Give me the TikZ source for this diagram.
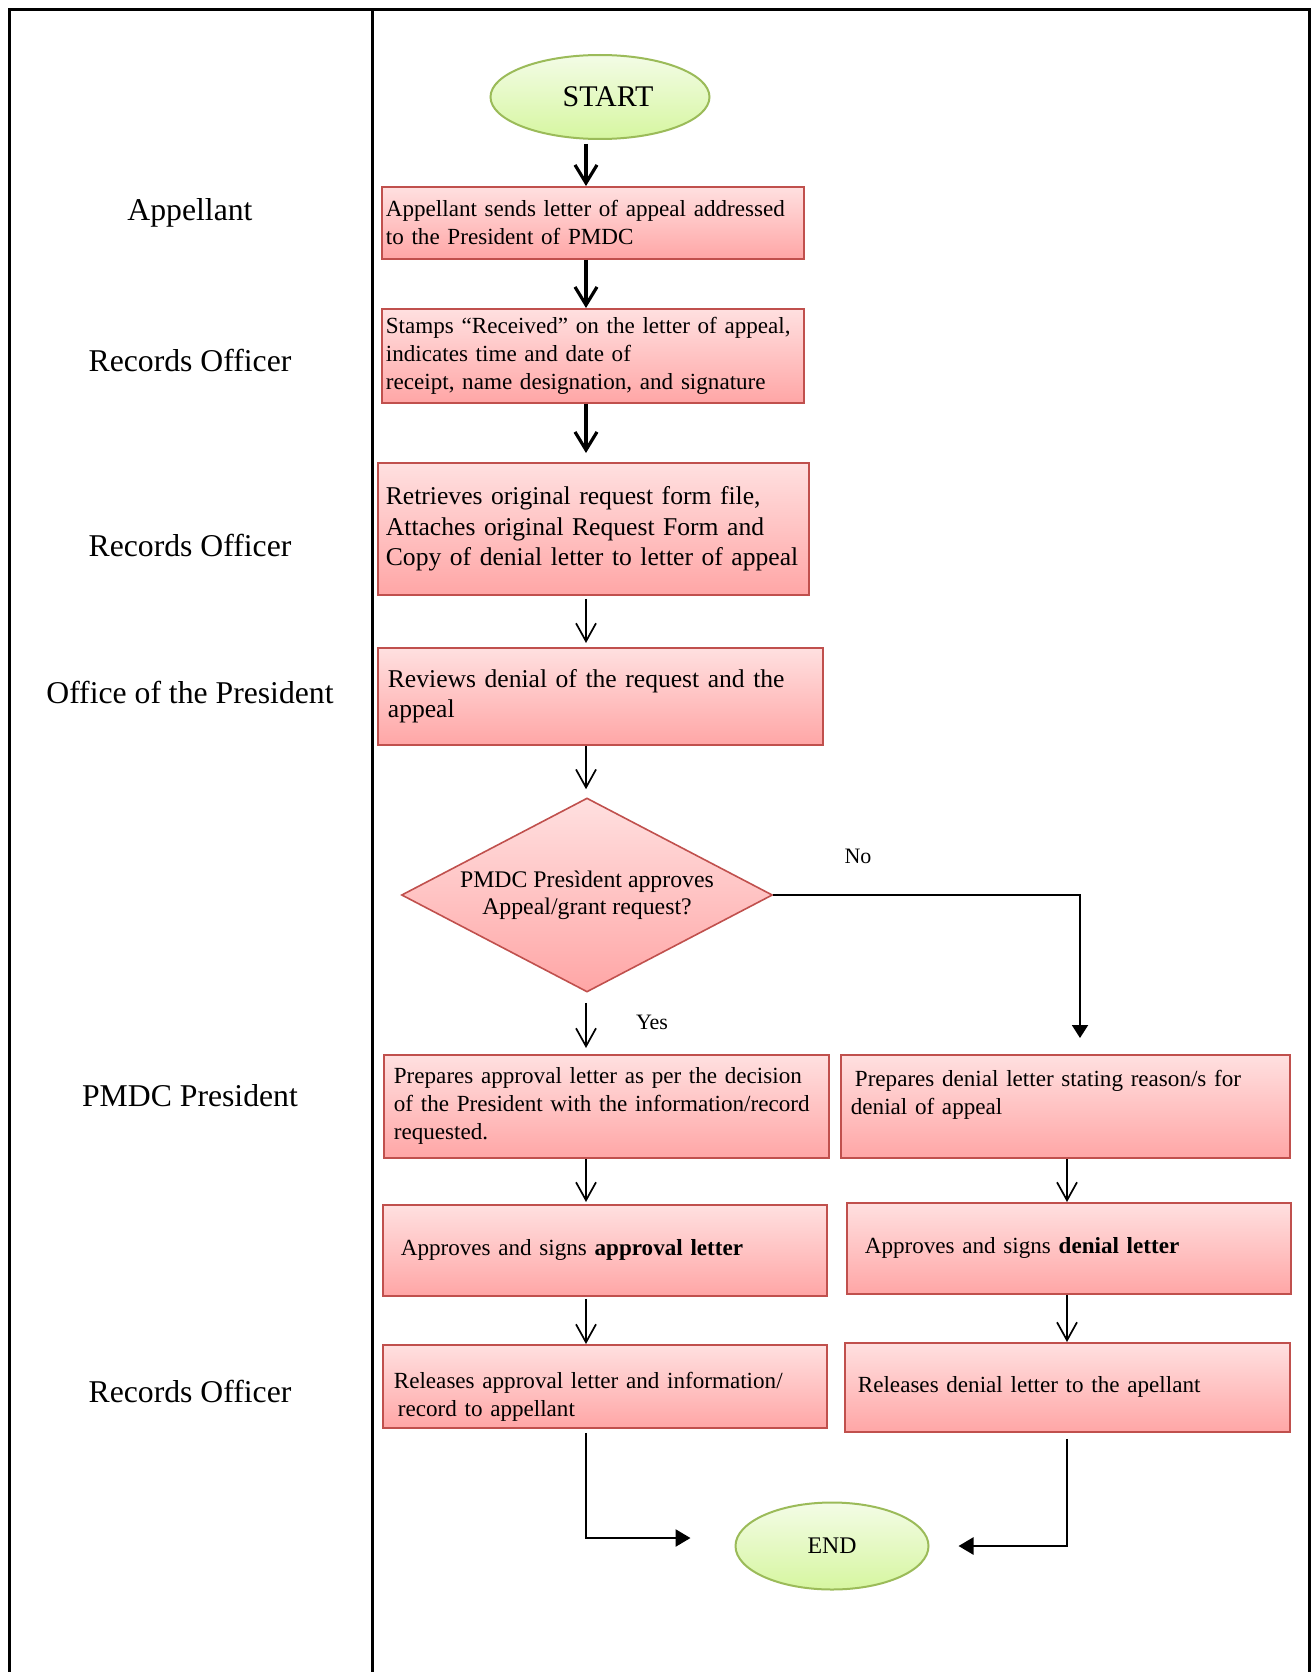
\documentclass[tikz,border=0pt]{standalone}
\usepackage{fontspec}
\setmainfont{Liberation Serif}
\usepackage{xcolor}
\usepackage{tikz}
\usetikzlibrary{shapes.geometric, arrows.meta, calc}
\definecolor{BoxTop}{RGB}{255,224,224}
\definecolor{BoxBottom}{RGB}{255,166,166}
\definecolor{BoxRed}{RGB}{192,80,77}
\definecolor{OvalTop}{RGB}{243,252,230}
\definecolor{OvalBottom}{RGB}{214,246,160}
\definecolor{OvalGreen}{RGB}{155,187,89}
\newcommand{\boxfont}{\fontsize{23.1}{28}\selectfont}
\newcommand{\bigboxfont}{\fontsize{25.6}{30.5}\selectfont}
\tikzset{
	lane/.style={font=\fontsize{31.7}{36}\selectfont},
	procbox/.style={draw=BoxRed, line width=1.8pt, top color=BoxTop, bottom color=BoxBottom, anchor=north west, align=left, inner xsep=10pt, inner ysep=0pt, font=\boxfont},
	terminal/.style={ellipse, draw=OvalGreen, line width=2pt, top color=OvalTop, bottom color=OvalBottom, inner sep=0pt},
	decision/.style={diamond, draw=BoxRed, line width=1.6pt, top color=BoxTop, bottom color=BoxBottom, inner sep=0pt, shape aspect=1.9, align=center, font=\fontsize{23.8}{26.7}\selectfont},
	mainflow/.style={line width=3.2pt, -{Straight Barb[length=18pt,width=22pt]}},
	thinflow/.style={line width=1.7pt, -{Straight Barb[length=18pt,width=20pt]}},
	noflow/.style={line width=2pt, -{Triangle[length=13pt,width=16pt]}},
	endflow/.style={line width=2.6pt, -{Triangle[length=15pt,width=17pt]}},
	branch/.style={font=\fontsize{22}{26}\selectfont},
}

\begin{document}
\begin{tikzpicture}[x=1pt, y=-1pt]
	\useasboundingbox (0,0) rectangle (1314,1672);
	% frame and lane divider
	\draw[line width=3pt] (9,1672) -- (9,10) -- (1309,10) -- (1309,1672);
	\draw[line width=3pt] (372,10) -- (372,1672);

	% who does what
	\node[lane] (appellant) at (190,213) {Appellant};
	\node[lane] (records1) at (190,360) {Records Officer};
	\node[lane] (records2) at (190,545) {Records Officer};
	\node[lane] (office) at (190,692) {Office of the President};
	\node[lane] (president) at (190,1096) {PMDC President};
	\node[lane] (records3) at (190,1391) {Records Officer};

	% steps
	\node[terminal, minimum width=219pt, minimum height=84pt, font=\fontsize{30}{34}\selectfont] (start) at (600,97) {\hspace*{16pt}START};
	\node[procbox, inner xsep=4pt, text width=414pt, minimum height=72pt] (send) at (381,186) {Appellant sends letter of appeal addressed\\to the President of PMDC};
	\node[procbox, inner xsep=4pt, text width=414pt, minimum height=94pt] (stamp) at (381,308) {Stamps “Received” on the letter of appeal,\\indicates time and date of\\receipt, name designation, and signature};
	\node[procbox, inner xsep=8pt, text width=415pt, minimum height=132pt, font=\bigboxfont] (retrieve) at (377,462) {Retrieves original request form file,\\Attaches original Request Form and\\Copy of denial letter to letter of appeal};
	\node[procbox, text width=425pt, minimum height=97pt, font=\bigboxfont] (review) at (377,647) {Reviews denial of the request and the\\appeal};
	\node[decision, minimum width=371pt, minimum height=194pt] (decide) at (587,895) {PMDC Presìdent approves\\Appeal/grant request?};

	\node[procbox, text width=425pt, minimum height=103pt] (prepok) at (383,1054) {Prepares approval letter as per the decision\\of the President with the information/record\\requested.};
	\node[procbox, text width=429pt, minimum height=103pt] (prepno) at (840,1054) {\hspace*{4pt}Prepares denial letter stating reason/s for\\denial of appeal\\\mbox{}};
	\node[procbox, inner xsep=18pt, text width=408pt, minimum height=91pt] (signok) at (382,1204) {Approves and signs \textbf{approval letter}};
	\node[procbox, inner xsep=18pt, text width=408pt, minimum height=91pt] (signno) at (846,1202) {Approves and signs \textbf{denial letter}};
	\node[procbox, inner xsep=11pt, text width=422pt, minimum height=83pt] (relok) at (382,1344) {\rule{0pt}{38pt}Releases approval letter and information/\\\hspace*{4pt}record to appellant};
	\node[procbox, inner xsep=13pt, text width=419pt, minimum height=89pt] (relno) at (844,1342) {Releases denial letter to the apellant};
	\node[terminal, minimum width=193pt, minimum height=87pt, font=\fontsize{23.8}{28}\selectfont] (finish) at (832,1546) {END};

	\node[branch] (yes) at (652,1022) {Yes};
	\node[branch] (no) at (858,856) {No};

	% connectors
	\coordinate (spine) at (586,0);
	\coordinate (rspine) at (1067,0);
	\coordinate (nodrop) at (1080,0);
	\draw[mainflow, shorten <=4pt] (spine |- start.south) -- (spine |- send.north);
	\draw[mainflow] (spine |- send.south) -- (spine |- stamp.north);
	\draw[mainflow, shorten >=9pt] (spine |- stamp.south) -- (spine |- retrieve.north);
	\draw[thinflow, shorten <=3pt, shorten >=4pt] (spine |- retrieve.south) -- (spine |- review.north);
	\draw[thinflow, shorten >=8pt] (spine |- review.south) -- (spine |- decide.north);
	\draw[thinflow, shorten <=10pt, shorten >=6pt] (spine |- decide.south) -- (spine |- prepok.north);
	\draw[thinflow, shorten >=2pt] (spine |- prepok.south) -- (spine |- signok.north);
	\draw[thinflow, shorten <=2pt] (spine |- signok.south) -- (spine |- relok.north);
	\draw[noflow, shorten >=16pt] (decide.east) -| (nodrop |- prepno.north);
	\draw[thinflow] (rspine |- prepno.south) -- (rspine |- signno.north);
	\draw[thinflow] (rspine |- signno.south) -- (rspine |- relno.north);
	\draw[endflow, shorten <=4pt, shorten >=44pt] (spine |- relok.south) |- ([yshift=8pt]finish.west);
	\draw[endflow, shorten <=6pt, shorten >=29pt] (rspine |- relno.south) |- (finish.east);
\end{tikzpicture}
\end{document}
